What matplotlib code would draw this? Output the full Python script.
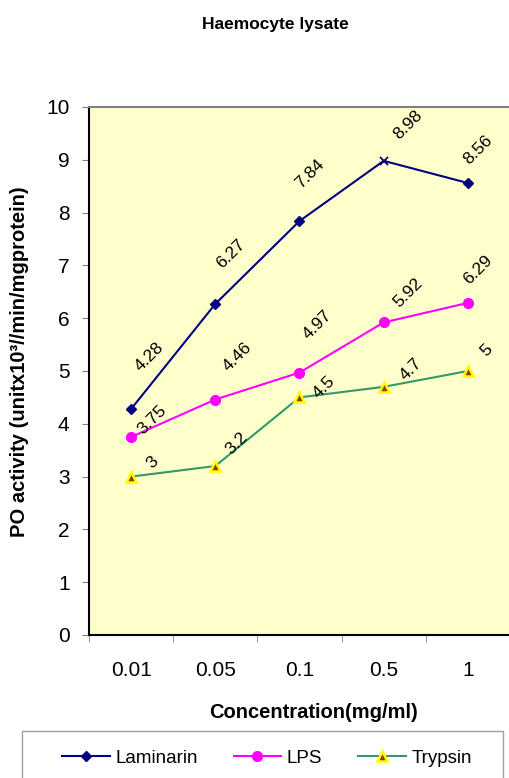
import matplotlib
matplotlib.use("Agg")
import matplotlib.pyplot as plt
from matplotlib.patches import Rectangle

plt.rcParams['font.family'] = ['Liberation Sans', 'DejaVu Sans']

concentrations = ['0.01', '0.05', '0.1', '0.5', '1']
laminarin = [4.28, 6.27, 7.84, 8.98, 8.56]
lps = [3.75, 4.46, 4.97, 5.92, 6.29]
trypsin = [3.0, 3.2, 4.5, 4.7, 5.0]

# label offsets in pixels (dx, dy) as placed in the original chart
lam_off = [(18, 52), (16, 50), (10, 47), (24, 36), (10, 33)]
lps_off = [(21, 17), (22, 43), (18, 48), (24, 30), (10, 33)]
try_off = [(21, 14), (21, 23), (25, 10), (27, 18), (19, 21)]

dpi = 100
fig = plt.figure(figsize=(5.1, 7.78), dpi=dpi)
ax = fig.add_axes([89 / 510, 1 - 635 / 778, 421 / 510, 528 / 778])
ax.set_facecolor('#FFFFCC')

x = list(range(len(concentrations)))

ax.plot(x, laminarin, color='#000080', lw=1.5, marker='D', ms=5,
        markevery=[0, 1, 2, 4], label='Laminarin')
ax.plot(x[3], laminarin[3], color='#000080', marker='x', ms=6, mew=1.3, ls='none')
ax.plot(x, lps, color='#FF00FF', lw=1.5, marker='o', ms=7, label='LPS')
ax.plot(x, trypsin, color='#339966', lw=1.5, marker='^', ms=7,
        mfc='#993300', mec='#FFFF00', mew=1.8, label='Trypsin')

k = 72 / dpi
for vals, offs in [(laminarin, lam_off), (lps, lps_off), (trypsin, try_off)]:
    for i, (v, (dx, dy)) in enumerate(zip(vals, offs)):
        ax.annotate(f'{v:g}', xy=(i, v), xytext=(dx * k, dy * k),
                    textcoords='offset points', ha='center', va='center',
                    rotation=45, rotation_mode='anchor', fontsize=12.5)

ax.set_xlim(-0.5, 4.5)
ax.set_ylim(0, 10)
ax.set_yticks(range(0, 11))
ax.set_xticks(x)
ax.set_xticklabels(concentrations)
ax.set_xticks([i - 0.5 for i in range(6)], minor=True)
ax.tick_params(axis='x', which='major', length=0, pad=19, labelsize=15)
ax.tick_params(axis='x', which='minor', length=5, color='#808080', direction='out')
ax.tick_params(axis='y', length=5, color='#808080', direction='out', pad=9, labelsize=15)

ax.spines['right'].set_visible(False)
ax.spines['top'].set_color('#808080')
ax.spines['top'].set_linewidth(1.5)
ax.spines['left'].set_linewidth(1.5)
ax.spines['bottom'].set_linewidth(1.5)

fig.text(275 / 510, 1 - 25 / 778, 'Haemocyte lysate', ha='center', va='center',
         fontsize=12.5, fontweight='bold')
fig.text(314 / 510, 1 - 712 / 778, 'Concentration(mg/ml)', ha='center', va='center',
         fontsize=14.5, fontweight='bold')
fig.text(20 / 510, 1 - 362 / 778, 'PO activity (unitx10³//min/mgprotein)', ha='center',
         va='center', rotation=90, fontsize=14.5, fontweight='bold')

fig.patches.append(Rectangle((22 / 510, -0.05), 481 / 510, 47 / 778 + 0.05,
                             transform=fig.transFigure, fill=False, ec='#A0A0A0', lw=1))
handles, labels = ax.get_legend_handles_labels()
fig.legend(handles, labels, ncol=3, frameon=False, loc='center',
           bbox_to_anchor=(267 / 510, 1 - 758 / 778), fontsize=13.5,
           handlelength=2.55, handletextpad=0.3, columnspacing=1.9, borderpad=0)

fig.savefig('out.png', dpi=dpi)
